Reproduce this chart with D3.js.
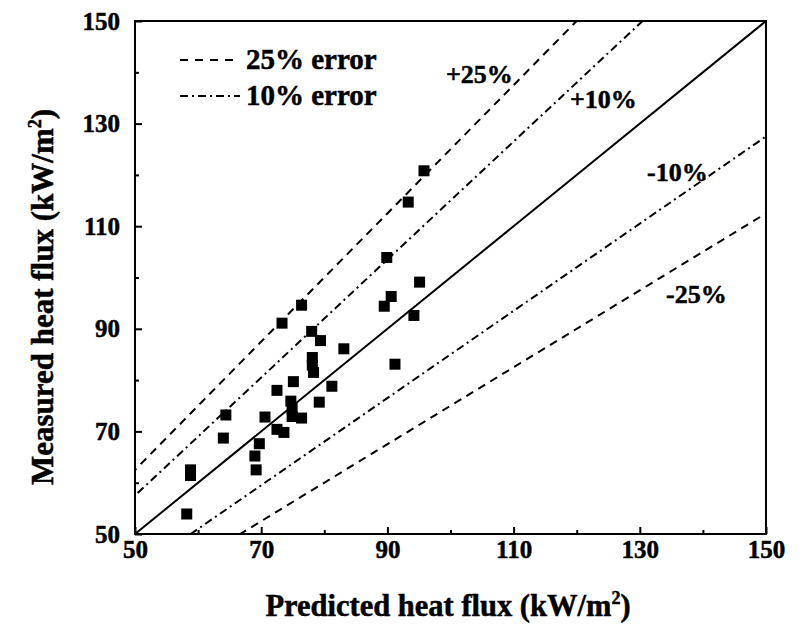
<!DOCTYPE html>
<html><head><meta charset="utf-8">
<script src="https://cdn.jsdelivr.net/npm/d3@7"></script>
<style>body{margin:0;background:#fff}</style>
</head><body><svg id="c" width="803" height="628"></svg>
<script>
const predicted = [58.2,58.8,58.8,64.0,64.4,69.0,69.2,69.7,70.6,72.5,72.5,73.6,73.3,75.1,74.7,74.9,74.9,76.4,76.4,78.0,79.4,78.1,78.1,78.3,79.2,81.2,83.1,89.5,89.9,90.6,91.2,93.3,94.2,95.1,95.8];
const measured  = [53.9,62.5,61.4,68.7,73.2,65.2,62.5,67.6,72.8,78.0,70.4,69.8,91.1,79.7,75.9,74.4,72.9,72.6,94.6,89.5,87.7,84.4,82.9,81.5,75.7,78.8,86.1,94.4,103.9,96.3,83.1,114.7,92.6,99.1,120.8];
const xTicks = [50,70,90,110,130,150];
const yTicks = [50,70,90,110,130,150];
const minorTicks = [60,80,100,120,140];
const refFactors = [1.25,1.15,1.0,0.85,0.75];
const refStyles = ["8,6","8,4,2,4","none","8,4,2,4","8,6"];
const refLabels = ["+25%","+10%","-10%","-25%"];

const FONT = "'Liberation Serif','Times New Roman',serif";
function styleText(sel,size){ return sel.attr("font-family",FONT).attr("font-weight","bold").style("font-family",FONT).style("font-weight","700").style("font-size",size+"px").attr("fill","#000").attr("stroke","#000").attr("stroke-width",0.5); }

const svg = d3.select("#c");
const L=135,R=766,T=21,B=534;
const x = d3.scaleLinear().domain([50,150]).range([L,R]);
const y = d3.scaleLinear().domain([50,150]).range([B,T]);

svg.append("clipPath").attr("id","clip").append("rect").attr("x",L).attr("y",T).attr("width",R-L).attr("height",B-T);
const g = svg.append("g").attr("clip-path","url(#clip)");
refFactors.forEach((f,i)=>{
  g.append("line").attr("x1",x(40)).attr("y1",y(40*f)).attr("x2",x(160)).attr("y2",y(160*f))
   .attr("stroke","#000").attr("stroke-width",2).attr("stroke-dasharray",refStyles[i]);
});
const s=11;
svg.append("g").selectAll("rect").data(predicted.map((p,i)=>[p,measured[i]])).join("rect")
  .attr("x",d=>x(d[0])-s/2).attr("y",d=>y(d[1])-s/2).attr("width",s).attr("height",s).attr("fill","#000");

svg.append("rect").attr("x",L).attr("y",T).attr("width",R-L).attr("height",B-T).attr("fill","none").attr("stroke","#000").attr("stroke-width",2);
svg.append("g").attr("transform",`translate(0,${B})`).call(d3.axisBottom(x).tickValues(xTicks).tickSize(-7).tickPadding(6).tickFormat(d3.format("d")));
svg.append("g").attr("transform",`translate(${L},0)`).call(d3.axisLeft(y).tickValues(yTicks).tickSize(-7).tickPadding(15).tickFormat(d3.format("d")));
svg.append("g").attr("transform",`translate(0,${B})`).call(d3.axisBottom(x).tickValues(minorTicks).tickSize(-4).tickFormat(""));
svg.append("g").attr("transform",`translate(${L},0)`).call(d3.axisLeft(y).tickValues(minorTicks).tickSize(-4).tickFormat(""));
svg.selectAll(".domain").remove();
svg.selectAll(".tick line").attr("stroke","#000").attr("stroke-width",2);
styleText(svg.selectAll(".tick text"),25);

// titles
const xt = styleText(svg.append("text").attr("x",448).attr("y",616).attr("text-anchor","middle"),30.5);
xt.append("tspan").text("Predicted heat flux (kW/m");
xt.append("tspan").text("2").attr("dy",-12).style("font-size","18px");
xt.append("tspan").text(")").attr("dy",12);
const yt = styleText(svg.append("text").attr("transform",`translate(53,297) rotate(-90)`).attr("text-anchor","middle"),31);
yt.append("tspan").text("Measured heat flux (kW/m");
yt.append("tspan").text("2").attr("dy",-12).style("font-size","18px");
yt.append("tspan").text(")").attr("dy",12);

// legend
const leg = [["8,7","25% error",60],["8,4,2,4","10% error",96]];
leg.forEach(l=>{
  svg.append("line").attr("x1",180).attr("x2",240).attr("y1",l[2]).attr("y2",l[2]).attr("stroke","#000").attr("stroke-width",1.8).attr("stroke-dasharray",l[0]);
  styleText(svg.append("text").attr("x",246).attr("y",l[2]+9),29).text(l[1]);
});
const lp = [[446,83],[570,108],[647,181],[666,303]];
refLabels.forEach((t,i)=>styleText(svg.append("text").attr("x",lp[i][0]).attr("y",lp[i][1]),26).text(t));
</script></body></html>
